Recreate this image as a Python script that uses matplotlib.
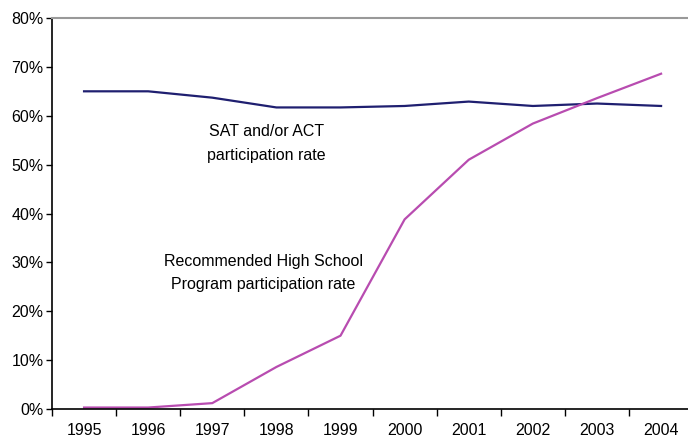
import matplotlib.pyplot as plt
from matplotlib.ticker import FuncFormatter

years = ["1995", "1996", "1997", "1998", "1999", "2000", "2001", "2002", "2003", "2004"]
sat_act = [65.0, 65.0, 63.7, 61.7, 61.7, 62.0, 62.9, 62.0, 62.5, 62.0]
rhsp = [0.3, 0.3, 1.2, 8.6, 15.0, 38.8, 51.0, 58.4, 63.6, 68.6]

plt.rcParams["font.family"] = ["Liberation Sans", "DejaVu Sans"]

fig = plt.figure(figsize=(6.88, 4.38), dpi=100)
ax = fig.add_axes([52 / 688, 29 / 438, 1 - 52 / 688, 391 / 438])

x = list(range(len(years)))
ax.plot(x, sat_act, color="#1f1f70", linewidth=1.6)
ax.plot(x, rhsp, color="#b84cb0", linewidth=1.6)

ax.set_xlim(-0.5, 9.42)
ax.set_ylim(0, 80)
ax.set_yticks(range(0, 81, 10))
ax.yaxis.set_major_formatter(FuncFormatter(lambda v, p: f"{v:.0f}%"))
ax.set_xticks([i - 0.5 for i in range(len(years))])
ax.set_xticklabels([])
ax.set_xticks(x, minor=True)
ax.set_xticklabels(years, minor=True)
ax.tick_params(axis="x", which="minor", length=0, pad=10, labelsize=11.5)
ax.tick_params(axis="x", which="major", length=5, width=1, direction="out")
ax.tick_params(axis="y", length=4, width=1, direction="out", labelsize=11.5, pad=2)

ax.spines["right"].set_visible(False)
ax.spines["top"].set_color("#999999")
ax.spines["top"].set_linewidth(1.5)
ax.spines["left"].set_linewidth(1.2)
ax.spines["bottom"].set_linewidth(1.2)

ax.text(2.85, 54.3, "SAT and/or ACT\nparticipation rate", ha="center", va="center",
        fontsize=11.5, linespacing=1.75)
ax.text(2.8, 27.8, "Recommended High School\nProgram participation rate", ha="center",
        va="center", fontsize=11.5, linespacing=1.65)

fig.savefig("out.png", dpi=100)
